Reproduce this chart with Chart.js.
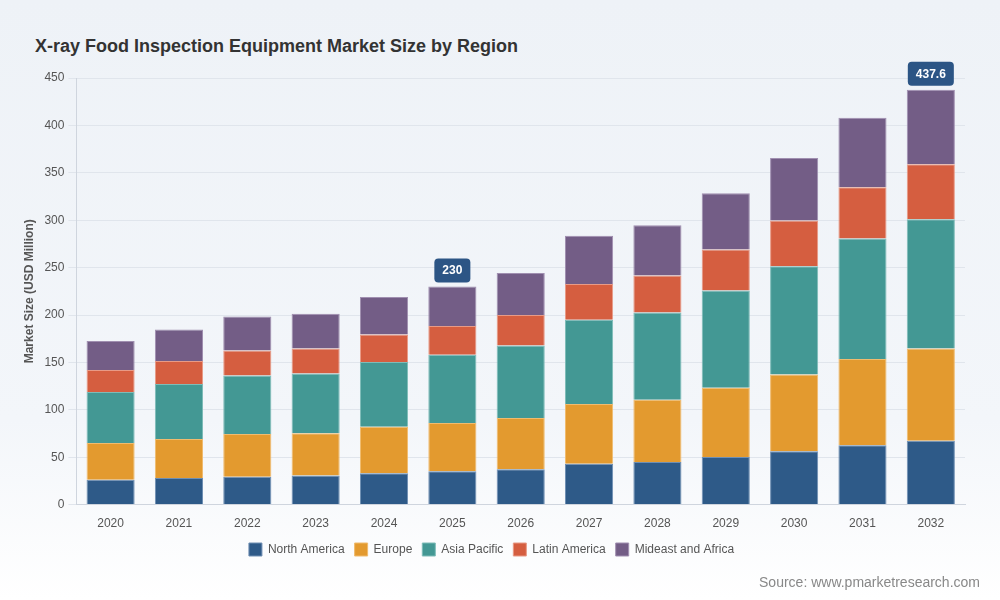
<!DOCTYPE html>
<html>
<head>
<meta charset="utf-8">
<script src="https://cdn.jsdelivr.net/npm/chart.js@4.4.0/dist/chart.umd.min.js"></script>
<style>
  html, body { margin: 0; padding: 0; }
  body {
    width: 1000px; height: 600px; overflow: hidden; position: relative;
    background: linear-gradient(180deg, #eef2f7 0%, #f3f6fa 70%, #ffffff 100%);
    font-family: "Liberation Sans", Arial, sans-serif;
  }
  #title {
    position: absolute; left: 35px; top: 36px;
    font-size: 18px; font-weight: bold; color: #333;
  }
  #source {
    position: absolute; right: 20px; top: 574px;
    font-size: 14px; color: #888;
  }
  #wrap { position: absolute; left: 0; top: 0; width: 1000px; height: 600px; }
</style>
</head>
<body>
<div id="title">X-ray Food Inspection Equipment Market Size by Region</div>
<div id="wrap"><canvas id="chart" width="1000" height="600"></canvas></div>
<div id="source">Source: www.pmarketresearch.com</div>
<script>
// Donnees (USD Million)
const years = ['2020', '2021', '2022', '2023', '2024', '2025', '2026', '2027', '2028', '2029', '2030', '2031', '2032'];
const northAmerica = [26.3, 28.1, 29.5, 30.6, 33.0, 35.1, 37.2, 43.2, 45.0, 50.3, 56.2, 62.5, 67.4];
const europe       = [38.7, 41.1, 45.0, 44.6, 49.2, 51.0, 54.2, 62.9, 65.7, 73.0, 81.1, 91.0, 97.3];
const asiaPacific  = [53.7, 58.0, 61.8, 63.2, 68.2, 72.0, 76.5, 88.9, 92.0, 102.5, 114.2, 127.1, 136.4];
const latinAmerica = [23.2, 24.2, 26.3, 26.3, 29.1, 30.2, 32.0, 37.6, 39.0, 43.3, 48.1, 54.2, 57.9];
const mideastAfrica = [30.6, 33.4, 35.9, 36.6, 39.4, 41.7, 44.3, 50.9, 53.1, 59.4, 66.1, 73.4, 78.6];
const highlightYears = ['2025', '2032'];
const highlightLabels = ['230', '437.6'];
const yTicks = [0, 50, 100, 150, 200, 250, 300, 350, 400, 450];

// Etiquettes des totaux
const totalLabels = {
    id: 'totalLabels',
    afterDatasetsDraw(chart) {
        const ctx = chart.ctx;
        const yScale = chart.scales.y;
        const xScale = chart.scales.x;
        highlightYears.forEach((yr, k) => {
            const i = years.indexOf(yr);
            const total = chart.data.datasets.reduce((s, ds) => s + ds.data[i], 0);
            const x = xScale.getPixelForValue(i);
            const yTop = yScale.getPixelForValue(total);
            const text = highlightLabels[k];
            ctx.save();
            ctx.font = 'bold 12px "Liberation Sans", Arial, sans-serif';
            const w = ctx.measureText(text).width + 16;
            const h = 24;
            const bx = x - w / 2;
            const by = yTop - 4 - h;
            ctx.fillStyle = '#2c5585';
            ctx.beginPath();
            ctx.roundRect(bx, by, w, h, 4);
            ctx.fill();
            ctx.fillStyle = '#ffffff';
            ctx.textAlign = 'center';
            ctx.textBaseline = 'middle';
            ctx.fillText(text, x, by + h / 2 + 0.5);
            ctx.restore();
        });
    }
};

function makeSet(label, data, color, border) {
    return {
        label: label,
        data: data,
        backgroundColor: color,
        borderColor: border,
        borderWidth: 1,
        categoryPercentage: 0.8,
        barPercentage: 0.88
    };
}

Chart.defaults.font.family = '"Liberation Sans", Arial, sans-serif';
Chart.defaults.color = '#555';

new Chart(document.getElementById('chart'), {
    type: 'bar',
    data: {
        labels: years,
        datasets: [
            makeSet('North America', northAmerica, '#2e5a88', '#6f8fb3'),
            makeSet('Europe', europe, '#e39a2f', '#f0bb6e'),
            makeSet('Asia Pacific', asiaPacific, '#439894', '#7ebcb8'),
            makeSet('Latin America', latinAmerica, '#d55e40', '#e89a86'),
            makeSet('Mideast and Africa', mideastAfrica, '#735d86', '#a08fb0')
        ]
    },
    options: {
        responsive: false,
        animation: false,
        devicePixelRatio: 1,
        layout: { padding: { top: 78, left: 18, right: 35, bottom: 34 } },
        scales: {
            x: {
                stacked: true,
                grid: { display: false },
                border: { color: '#cfd5de' },
                ticks: { color: '#555', font: { size: 12 }, padding: 4 },
                afterFit(axis) { axis.height -= 2; }
            },
            y: {
                stacked: true,
                min: 0,
                max: 450,
                afterBuildTicks(axis) { axis.ticks = yTicks.map(v => ({ value: v })); },
                grid: { color: '#e0e5ec', tickLength: 8 },
                border: { color: '#cfd5de' },
                ticks: { color: '#555', font: { size: 12 }, padding: 4 },
                title: {
                    display: true,
                    text: 'Market Size (USD Million)',
                    color: '#555',
                    font: { size: 12, weight: 'bold' },
                    padding: { bottom: 4 }
                }
            }
        },
        plugins: {
            legend: {
                position: 'bottom',
                labels: { boxWidth: 13, boxHeight: 13, color: '#555', font: { size: 12 }, padding: 10 }
            },
            tooltip: { enabled: false }
        }
    },
    plugins: [totalLabels]
});
</script>
</body>
</html>
